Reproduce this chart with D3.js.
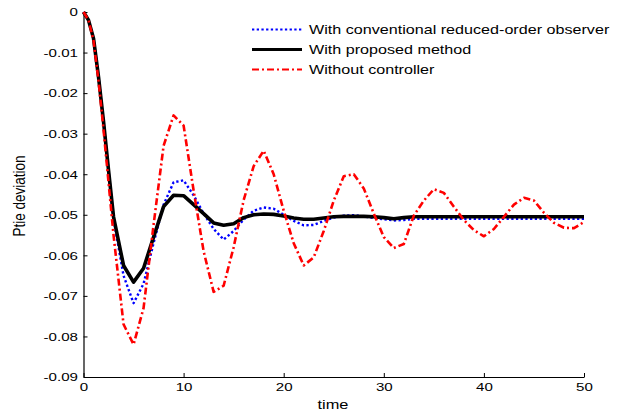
<!DOCTYPE html>
<html>
<head>
<meta charset="utf-8">
<script src="https://cdn.jsdelivr.net/npm/d3@7"></script>
<style>
  html, body { margin: 0; padding: 0; background: #fff; }
  svg text { font-family: "Liberation Sans", Arial, Helvetica, sans-serif; fill: #000; }
</style>
</head>
<body>
<script>
// sample times (finer at the start, where the curves drop quickly)
const time = [0, 0.5, 1, 1.5, 2, 2.5, 3,
  4, 5, 6, 7, 8, 9, 10, 11, 12, 13, 14, 15, 16, 17, 18, 19, 20,
  21, 22, 23, 24, 25, 26, 27, 28, 29, 30, 31, 32, 33, 34, 35,
  36, 37, 38, 39, 40, 41, 42, 43, 44, 45, 46, 47, 48, 49, 50];

const conventional = [0, -0.002, -0.0065, -0.016, -0.027, -0.039, -0.051,
  -0.065, -0.0718, -0.067, -0.057, -0.0475, -0.042, -0.0415, -0.0452, -0.0497, -0.0535, -0.0561, -0.054, -0.0512, -0.049, -0.0482, -0.0485, -0.05,
  -0.0515, -0.0526, -0.0525, -0.0515, -0.0507, -0.0502, -0.0501, -0.0504, -0.0508, -0.0511, -0.0514, -0.0513, -0.051, -0.051, -0.051,
  -0.051, -0.051, -0.051, -0.051, -0.051, -0.051, -0.051, -0.051, -0.051, -0.051, -0.051, -0.051, -0.051, -0.051, -0.051];

const proposed = [0, -0.002, -0.0065, -0.016, -0.027, -0.039, -0.0505,
  -0.0625, -0.0666, -0.0632, -0.0555, -0.048, -0.0452, -0.0453, -0.0475, -0.0497, -0.052, -0.0526, -0.0522, -0.0507, -0.05, -0.0498, -0.0499, -0.0503,
  -0.0508, -0.0511, -0.0511, -0.0508, -0.0505, -0.0504, -0.0504, -0.0504, -0.0505, -0.0507, -0.051, -0.0507, -0.0505, -0.0505, -0.0505,
  -0.0505, -0.0505, -0.0505, -0.0505, -0.0505, -0.0505, -0.0505, -0.0505, -0.0505, -0.0505, -0.0505, -0.0505, -0.0505, -0.0505, -0.0505];

const noControl = [0, -0.002, -0.007, -0.017, -0.029, -0.042, -0.055,
  -0.077, -0.082, -0.073, -0.0525, -0.033, -0.0255, -0.028, -0.044, -0.059, -0.069, -0.0675, -0.058, -0.0464, -0.038, -0.0342, -0.040, -0.049,
  -0.057, -0.0625, -0.0605, -0.054, -0.0465, -0.0405, -0.040, -0.0435, -0.0497, -0.0555, -0.0582, -0.0572, -0.0502, -0.0465, -0.0437,
  -0.0446, -0.048, -0.0513, -0.0538, -0.0553, -0.0535, -0.0505, -0.0475, -0.0458, -0.0465, -0.0495, -0.052, -0.0532, -0.0533, -0.0518];

const xTicks = [0, 10, 20, 30, 40, 50];
const yTicks = [0, -0.01, -0.02, -0.03, -0.04, -0.05, -0.06, -0.07, -0.08, -0.09];
const legendLabels = ['With conventional reduced-order observer', 'With proposed method', 'Without controller'];

const WIDTH = 628;
const HEIGHT = 412;
const SX = 1.28; // the source figure is stretched sideways

const xScale = d3.scaleLinear().domain([0, 50]).range([83.5, 584]);
const yScale = d3.scaleLinear().domain([-0.09, 0]).range([377, 12]);

const svg = d3.select('body').append('svg')
  .attr('width', WIDTH)
  .attr('height', HEIGHT);

// axes, ticks pointing inward
const xAxis = svg.append('g')
  .attr('transform', `translate(0,${yScale(-0.09)})`)
  .call(d3.axisBottom(xScale).tickValues(xTicks).tickSizeInner(-4).tickSizeOuter(0).tickPadding(7));

const yAxis = svg.append('g')
  .attr('transform', `translate(${xScale(0)},0)`)
  .call(d3.axisLeft(yScale).tickValues(yTicks).tickSizeInner(-4).tickSizeOuter(0).tickPadding(4.3)
    .tickFormat(d => d === 0 ? '0' : d.toFixed(2)));

[xAxis, yAxis].forEach(ax => {
  ax.select('.domain').attr('stroke', '#000').attr('stroke-width', 1.2);
  ax.selectAll('.tick line').attr('stroke', '#000');
  ax.selectAll('.tick text')
    .attr('font-family', null)
    .attr('font-size', 11.8)
    .attr('transform', `scale(${SX},1)`);
});
xAxis.selectAll('.tick text').attr('dy', '0.6em');

// series
const series = [
  { values: conventional, color: '#0000ff', width: 2.4, dash: '2.3,2.4' },
  { values: proposed, color: '#000000', width: 3.6, dash: null },
  { values: noControl, color: '#ff0000', width: 2.6, dash: '7,3,2,3' }
];

const line = d3.line()
  .x((d, i) => xScale(time[i]))
  .y(d => yScale(d));

series.forEach(s => {
  svg.append('path')
    .datum(s.values)
    .attr('d', line)
    .attr('fill', 'none')
    .attr('stroke', s.color)
    .attr('stroke-width', s.width)
    .attr('stroke-dasharray', s.dash)
    .attr('stroke-linejoin', 'round');
});

// axis labels
svg.append('text')
  .attr('transform', `translate(333,409) scale(${SX},1)`)
  .attr('text-anchor', 'middle')
  .attr('font-size', 12.8)
  .text('time');

svg.append('text')
  .attr('transform', `translate(25,196) scale(${SX},1) rotate(-90)`)
  .attr('text-anchor', 'middle')
  .attr('font-size', 13.5)
  .text('Ptie deviation');

// legend
const legend = svg.append('g');
series.forEach((s, i) => {
  let ly = 29.5 + i * 20;
  legend.append('line')
    .attr('x1', 252).attr('x2', 302)
    .attr('y1', ly).attr('y2', ly)
    .attr('stroke', s.color)
    .attr('stroke-width', i === 1 ? 3 : 2.2)
    .attr('stroke-dasharray', s.dash);
  legend.append('text')
    .attr('transform', `translate(309,${ly + 4.5}) scale(${SX},1)`)
    .attr('font-size', 12.6)
    .text(legendLabels[i]);
});
</script>
</body>
</html>
